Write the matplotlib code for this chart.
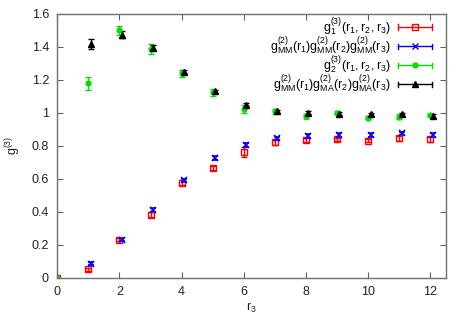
import numpy as np
import matplotlib
matplotlib.use('Agg')
import matplotlib.pyplot as plt
from matplotlib.lines import Line2D
from matplotlib.legend_handler import HandlerBase
from matplotlib.container import ErrorbarContainer

plt.rcParams['font.family'] = ['Liberation Sans', 'DejaVu Sans']
plt.rcParams['mathtext.default'] = 'regular'
plt.rcParams['font.size'] = 9

# --- datos ---
r3 = np.arange(0, 13)
g1 = [0.0, 0.05, 0.23, 0.38, 0.575, 0.665, 0.76, 0.82, 0.835, 0.84, 0.83, 0.845, 0.84]
g1_err = [0.005, 0.01, 0.01, 0.015, 0.015, 0.01, 0.03, 0.015, 0.01, 0.01, 0.01, 0.015, 0.015]

r3_mm = np.arange(1, 13) + 0.08
gmm = [0.085, 0.23, 0.41, 0.59, 0.725, 0.805, 0.845, 0.86, 0.865, 0.865, 0.875, 0.865]
gmm_err = [0.01, 0.01, 0.01, 0.01, 0.01, 0.01, 0.01, 0.01, 0.01, 0.01, 0.01, 0.01]

g2 = [0.0, 1.18, 1.5, 1.385, 1.24, 1.125, 1.025, 1.01, 0.98, 1.0, 0.97, 0.975, 0.985]
g2_err = [0.005, 0.04, 0.03, 0.03, 0.02, 0.02, 0.025, 0.015, 0.015, 0.01, 0.01, 0.015, 0.01]

r3_ma = np.arange(1, 13) + 0.08
gma = [1.42, 1.475, 1.395, 1.25, 1.13, 1.05, 1.01, 1.0, 0.995, 0.99, 0.99, 0.98]
gma_err = [0.03, 0.02, 0.015, 0.01, 0.01, 0.01, 0.01, 0.01, 0.01, 0.01, 0.01, 0.01]

labels = [r'$g_1^{(3)}(r_1,r_2,r_3)$',
          r'$g_{MM}^{(2)}(r_1)g_{MM}^{(2)}(r_2)g_{MM}^{(2)}(r_3)$',
          r'$g_2^{(3)}(r_1,r_2,r_3)$',
          r'$g_{MM}^{(2)}(r_1)g_{MA}^{(2)}(r_2)g_{MA}^{(2)}(r_3)$']


# muestra de leyenda estilo gnuplot: barra horizontal con topes y marcador al centro
class HandlerHErr(HandlerBase):
    def create_artists(self, legend, orig_handle, xdescent, ydescent, width, height, fontsize, trans):
        ln = orig_handle.lines[0]
        c = ln.get_color()
        y = height / 2 - ydescent
        x0, x1 = -xdescent, width - xdescent
        h = 0.3 * height
        arts = [Line2D([x0, x1], [y, y], color=c, lw=1),
                Line2D([x0, x0], [y - h, y + h], color=c, lw=1),
                Line2D([x1, x1], [y - h, y + h], color=c, lw=1),
                Line2D([(x0 + x1) / 2], [y], marker=ln.get_marker(), mfc=ln.get_markerfacecolor(),
                       mec=c, ms=ln.get_markersize(), mew=1, linestyle='none')]
        for a in arts:
            a.set_transform(trans)
        return arts


fig = plt.figure(figsize=(4.67, 3.27), dpi=100)
ax = fig.add_axes([57.3 / 467, 1 - 277.5 / 327, (445.7 - 57.3) / 467, (277.5 - 14) / 327])

kw = dict(linestyle='none', capsize=2, elinewidth=1, capthick=1)
ax.errorbar(r3, g1, yerr=g1_err, color='#ff0000', marker='s', mfc='none', mew=1, markersize=5,
            label=labels[0], **kw)
ax.errorbar(r3_mm, gmm, yerr=gmm_err, color='#0000ff', marker='x', mew=1.2, markersize=4,
            label=labels[1], **kw)
ax.errorbar(r3, g2, yerr=g2_err, color='#00e000', marker='o', markersize=3.5,
            label=labels[2], **kw)
ax.errorbar(r3_ma, gma, yerr=gma_err, color='black', marker='^', markersize=4.5,
            label=labels[3], **kw)

ax.set_xlim(0, 12.5)
ax.set_ylim(0, 1.6)
ax.set_xticks(range(0, 13, 2))
ax.set_yticks([0, 0.2, 0.4, 0.6, 0.8, 1.0, 1.2, 1.4, 1.6])
ax.set_yticklabels(['0', '0.2', '0.4', '0.6', '0.8', '1', '1.2', '1.4', '1.6'])
ax.tick_params(direction='in', top=True, right=True, length=4, width=0.8,
               color='#606060', labelcolor='#222222', pad=6)
for s in ax.spines.values():
    s.set_color('#707070')
    s.set_linewidth(1.0)

ax.set_xlabel(r'$r_3$', color='#222222', labelpad=2)
ax.set_ylabel(r'$g^{(3)}$', color='#222222', labelpad=6)

ax.legend(loc='upper right', bbox_to_anchor=(0.97, 1.0), frameon=False, markerfirst=False,
          handlelength=2.7, labelspacing=-0.2, borderaxespad=0, borderpad=0.15,
          handletextpad=0.6, fontsize=9, handler_map={ErrorbarContainer: HandlerHErr()})

fig.savefig('out.png', dpi=100)
